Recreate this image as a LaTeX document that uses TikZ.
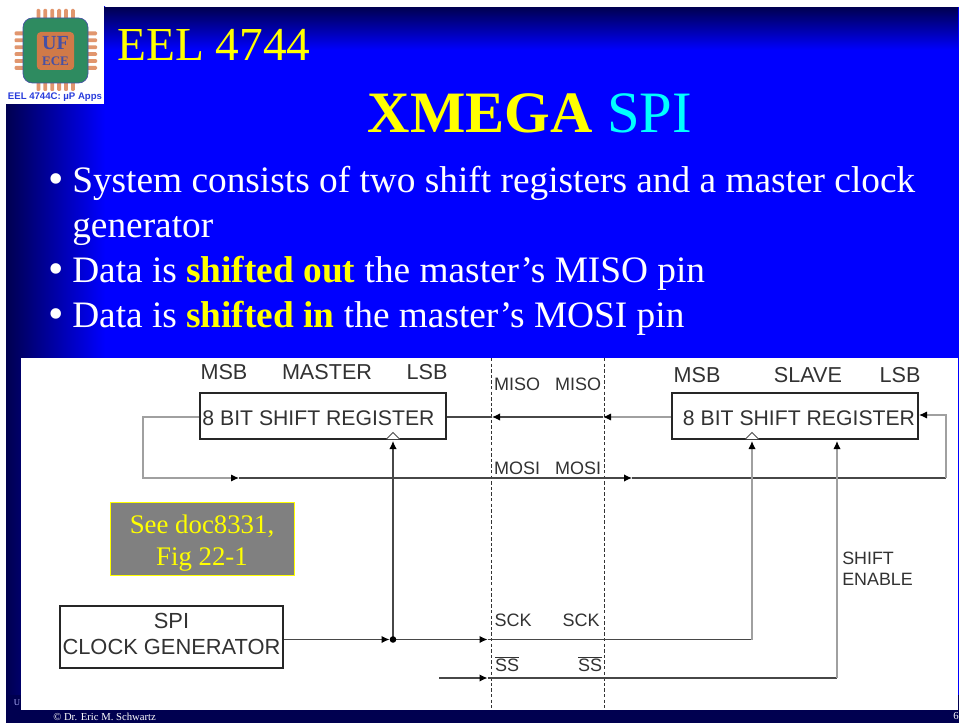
\documentclass[tikz,border=0pt]{standalone}
\usepackage{fontspec}
\setmainfont{Liberation Serif}
\setsansfont{Liberation Sans}
\usepackage{tikz}
\usetikzlibrary{arrows.meta, positioning, fadings, calc}
\definecolor{slidenavy}{RGB}{0, 0, 80}
\definecolor{slideblue}{RGB}{0, 0, 255}
\definecolor{slideyellow}{RGB}{255, 255, 0}
\definecolor{slidecyan}{RGB}{0, 255, 255}
\definecolor{inkgray}{RGB}{50, 50, 50}
\definecolor{paleline}{RGB}{160, 160, 160}
\definecolor{chipgreen}{RGB}{46, 139, 96}
\definecolor{chiporange}{RGB}{225, 150, 110}
\definecolor{chipcoreorange}{RGB}{208, 122, 72}
\definecolor{chipblue}{RGB}{70, 80, 165}
\definecolor{captionblue}{RGB}{40, 60, 220}
\tikzfading[name=fadedown, top color=transparent!0, bottom color=transparent!100]
\tikzset{
    regbox/.style={
        rectangle,
        draw=black!85,
        line width=1.6pt,
        inner sep=0pt
    },
    regtext/.style={
        inner sep=0pt,
        text=inkgray,
        font=\sffamily\fontsize{15.9}{18}\selectfont
    },
    pinlabel/.style={
        inner sep=0pt,
        text=inkgray,
        font=\sffamily\fontsize{13.5}{15}\selectfont
    },
    headlabel/.style={
        inner sep=0pt,
        text=inkgray,
        font=\sffamily\fontsize{16.2}{18}\selectfont
    },
    bulletline/.style={
        anchor=base west,
        inner sep=0pt,
        text=white,
        font=\fontsize{28}{32}\selectfont
    },
    bulletdot/.style={
        anchor=base west,
        inner sep=0pt,
        text=white,
        font=\fontsize{33}{36}\selectfont
    },
    sig/.style={
        draw=black!72,
        line width=0.8pt
    },
    palesig/.style={
        draw=paleline,
        line width=0.9pt
    },
    tip/.style={
        -{Latex[length=6pt,width=5.5pt,black]}
    },
    boundary/.style={
        draw=black!80,
        line width=0.6pt,
        dash pattern=on 2.6pt off 1.6pt
    },
    clkmark/.style={
        draw=black!70,
        fill=white,
        line width=0.6pt
    },
    chippin/.style={
        draw=none,
        fill=chiporange,
        rounded corners=0.8pt
    }
}
\begin{document}
\begin{tikzpicture}[x=0.75pt, y=-0.75pt]
    \useasboundingbox (0,0) rectangle (959,723);
    \fill[white] (0,0) rectangle (959,723);
    % slide background
    \shade[left color=slidenavy, right color=slideblue] (6,7) rectangle (105,723);
    \fill[slideblue] (105,7) rectangle (959,723);
    \fill[slidenavy, path fading=fadedown] (6,7) rectangle (959,50);
    \fill[slidenavy] (6,695) rectangle (959,723);

    % logo
    \fill[white] (0,0) rectangle (104,104);
    \foreach \p in {0,1,2,3,4,5} {
        \fill[chippin] (36.5+\p*6.9,9) rectangle ++(3.8,12);
        \fill[chippin] (36.5+\p*6.9,79) rectangle ++(3.8,12);
        \fill[chippin] (14.5,31.5+\p*6.9) rectangle ++(12,3.8);
        \fill[chippin] (85,31.5+\p*6.9) rectangle ++(12,3.8);
    }
    \fill[chipgreen, draw=chipblue, line width=0.5pt, rounded corners=7pt] (23,18) rectangle (88,83);
    \node[draw=none, fill=chipcoreorange, rounded corners=3pt, minimum width=28pt, minimum height=28.5pt,
          inner sep=0pt, align=center, text=chipblue, font=\bfseries] (chipcore) at (55.5,51)
          {\fontsize{15}{13}\selectfont UF\\\fontsize{9.8}{10}\selectfont ECE};
    \node[inner sep=0pt, text=captionblue, font=\sffamily\bfseries\fontsize{7.2}{8}\selectfont] (logotext) at (55,97.5) {EEL 4744C: \textmu P Apps};

    % titles
    \node[inner sep=0pt, anchor=base west, text=slideyellow, font=\fontsize{35.5}{40}\selectfont] (course) at (117,61) {EEL 4744};
    \node[inner sep=0pt, anchor=base, font=\fontsize{44}{48}\selectfont] (title) at (530,133)
        {\textcolor{slideyellow}{\textbf{XMEGA}} \textcolor{slidecyan}{SPI}};

    % bullets
    \node[bulletdot] (bulA) at (48,194) {•};
    \node[bulletline] (lineA) at (72,193) {System consists of two shift registers and a master clock};
    \node[bulletline] (lineB) at (72,238) {generator};
    \node[bulletdot] (bulB) at (48,284) {•};
    \node[bulletline] (lineC) at (72,283) {Data is \textcolor{slideyellow}{\textbf{shifted out}} the master’s MISO pin};
    \node[bulletdot] (bulC) at (48,328) {•};
    \node[bulletline] (lineD) at (72,327) {Data is \textcolor{slideyellow}{\textbf{shifted in}} the master’s MOSI pin};

    % footer, under the white panel
    \node[inner sep=0pt, text=white!70!slideblue, font=\fontsize{6.5}{7}\selectfont] (footU) at (17,703) {U};
    \node[inner sep=0pt, anchor=west, text=white, font=\fontsize{8}{9}\selectfont] (footer) at (53,716.5) {© Dr. Eric M. Schwartz};
    \node[inner sep=0pt, anchor=west, text=white, font=\fontsize{8}{9}\selectfont] (pagenum) at (953,716) {6};

    % figure panel
    \fill[white] (21,358) rectangle (958,710);

    % boundaries
    \coordinate (bndAtop) at (491,358);
    \coordinate (bndAbot) at (491,708);
    \coordinate (bndBtop) at (604,358);
    \coordinate (bndBbot) at (604,708);
    \draw[boundary] (bndAtop) -- (bndAbot);
    \draw[boundary] (bndBtop) -- (bndBbot);

    % blocks
    \node[regbox, minimum width=184.5pt, minimum height=34.5pt] (master) at (323,416) {};
    \node[regbox, minimum width=184.5pt, minimum height=34.5pt] (slave) at (795,416) {};
    \node[regbox, minimum width=167pt, minimum height=46pt] (clockgen) at (171.5,637) {};
    \node[regtext] (mastertxt) at (318.5,418) {8 BIT SHIFT REGISTER};
    \node[regtext] (slavetxt) at (799,418) {8 BIT SHIFT REGISTER};
    \node[regtext, align=center, font=\sffamily\fontsize{16.4}{18.8}\selectfont] (clocktxt) at (171.5,634)
        {SPI\\CLOCK GENERATOR};
    \node[rectangle, draw=slideyellow, fill=black!50, line width=0.9pt, minimum width=138pt, minimum height=55pt] (seedoc) at (202.5,539) {};
    \node[inner sep=0pt, align=center, text=slideyellow, font=\fontsize{20.1}{24}\selectfont] (seedoctxt) at (202,543.5)
        {See doc8331,\\Fig 22-1};

    % clock marks on the registers
    \draw[clkmark] (386.5,439) -- (393,432.5) -- (399.5,439);
    \draw[clkmark] (745.5,439) -- (752,432.5) -- (758.5,439);

    % text labels
    \node[headlabel] (msbA) at (224,372) {MSB};
    \node[headlabel] (namA) at (327,372) {MASTER};
    \node[headlabel] (lsbA) at (427,372) {LSB};
    \node[headlabel] (msbB) at (697,375) {MSB};
    \node[headlabel] (namB) at (808,375) {SLAVE};
    \node[headlabel] (lsbB) at (900,375) {LSB};
    \foreach \nm/\lx/\rx/\ty/\txt in {miso/517/578/384/MISO, mosi/517/578/468/MOSI, sck/513/581/620/SCK, ss/507/590/664/$\overline{\mbox{SS}}$} {
        \node[pinlabel] (\nm A) at (\lx,\ty) {\txt};
        \node[pinlabel] (\nm B) at (\rx,\ty) {\txt};
    }
    \node[pinlabel, anchor=north west, align=left, font=\sffamily\fontsize{13.4}{15.8}\selectfont] (shiften) at (842,552) {SHIFT\\ENABLE};

    % MISO
    \coordinate (misoR) at (603,417);
    \coordinate (misoL) at (492,417);
    \draw[palesig, tip] (slave.west |- misoR) -- (misoR);
    \draw[sig, tip] (misoR) -- (misoL);
    \draw[sig] (misoL) -- (master.east |- misoL);

    % MOSI loop
    \coordinate (mosiA) at (239,478);
    \coordinate (mosiB) at (632,478);
    \coordinate (loopR) at (946,478);
    \coordinate (slaveD) at (919,415);
    \draw[palesig, tip] (master.west |- misoL) -| (143,478) -- (mosiA);
    \draw[sig, tip] (mosiA) -- (mosiB);
    \draw[sig] (mosiB) -- (loopR);
    \draw[palesig, tip] (loopR) |- (slaveD);

    % clock
    \coordinate (clkin) at (389.5,639.5);
    \coordinate (clkdot) at (393,639.5);
    \coordinate (sckL) at (487.5,639.5);
    \coordinate (sckR) at (752,639.5);
    \coordinate (mclk) at (393,441);
    \coordinate (sclk) at (752,441);
    \draw[sig, tip] (clockgen.east |- clkdot) -- (clkin);
    \draw[sig, tip] (clkdot) -- (mclk);
    \draw[sig, tip] (clkdot) -- (sckL);
    \draw[sig] (sckL) -- (sckR);
    \draw[palesig, tip] (sckR) -- (sclk);
    \fill[black] (clkdot) circle (3.3);

    % slave select
    \coordinate (ssIn) at (439,678);
    \coordinate (ssL) at (487.5,678);
    \coordinate (ssR) at (837,678);
    \coordinate (shen) at (837,441);
    \draw[sig, tip] (ssIn) -- (ssL);
    \draw[sig] (ssL) -- (ssR);
    \draw[palesig, tip] (ssR) -- (shen);
\end{tikzpicture}
\end{document}
